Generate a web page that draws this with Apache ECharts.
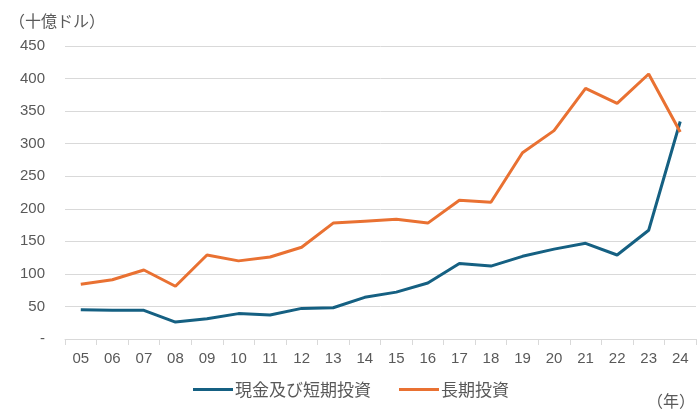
<!DOCTYPE html>
<html><head><meta charset="utf-8">
<script src="https://cdn.jsdelivr.net/npm/echarts@6/dist/echarts.min.js"></script>
<style>html,body{margin:0;padding:0;background:#fff}#c{width:700px;height:420px}</style>
</head><body><div id="c"></div>
<script>
const categories = ['05','06','07','08','09','10','11','12','13','14','15','16','17','18','19','20','21','22','23','24'];
const cashShort = [45,44,44,26,31,39,37,47,48,64,72,86,116,112,127,138,147,129,167,334];
const longTerm = [84,91,106,81,129,120,126,141,178,181,184,178,213,210,286,320,385,362,407,318];
const seriesNames = ['現金及び短期投資','長期投資'];
const yUnit = '（十億ドル）';
const xUnit = '（年）';

const font = '"Liberation Sans", "Noto Sans CJK JP", sans-serif';
const cjk = '"Noto Sans CJK JP", sans-serif';
const chart = echarts.init(document.getElementById('c'));
chart.setOption({
  animation:false,
  textStyle:{fontFamily:font},
  grid:{left:65,right:4,top:46,bottom:81},
  graphic:[
    {type:'text',left:9,top:13,style:{text:yUnit,fontSize:16,fill:'#595959',fontFamily:cjk}},
    {type:'text',left:647,top:393,style:{text:xUnit,fontSize:16,fill:'#595959',fontFamily:cjk}}
  ],
  legend:{
    top:381,left:193,padding:0,itemWidth:40,itemHeight:3,itemGap:28,
    icon:'rect',
    textStyle:{fontSize:17,color:'#595959',fontFamily:cjk,padding:[0,0,0,-3]},
    data:seriesNames
  },
  xAxis:{
    type:'category',data:categories,boundaryGap:true,
    axisLine:{lineStyle:{color:'#d9d9d9',width:1}},
    axisTick:{show:true,length:6,lineStyle:{color:'#d9d9d9'}},
    axisLabel:{fontSize:15,color:'#595959',margin:12}
  },
  yAxis:{
    type:'value',min:0,max:450,interval:50,
    axisLine:{show:false},axisTick:{show:false},
    splitLine:{lineStyle:{color:'#d9d9d9',width:1}},
    axisLabel:{fontSize:15,color:'#595959',margin:20,formatter:v=>v===0?'-':String(v)}
  },
  series:[
    {name:seriesNames[0],type:'line',data:cashShort,symbol:'none',lineStyle:{width:3,color:'#156082'},itemStyle:{color:'#156082'}},
    {name:seriesNames[1],type:'line',data:longTerm,symbol:'none',lineStyle:{width:3,color:'#E97132'},itemStyle:{color:'#E97132'}}
  ]
});
</script></body></html>
